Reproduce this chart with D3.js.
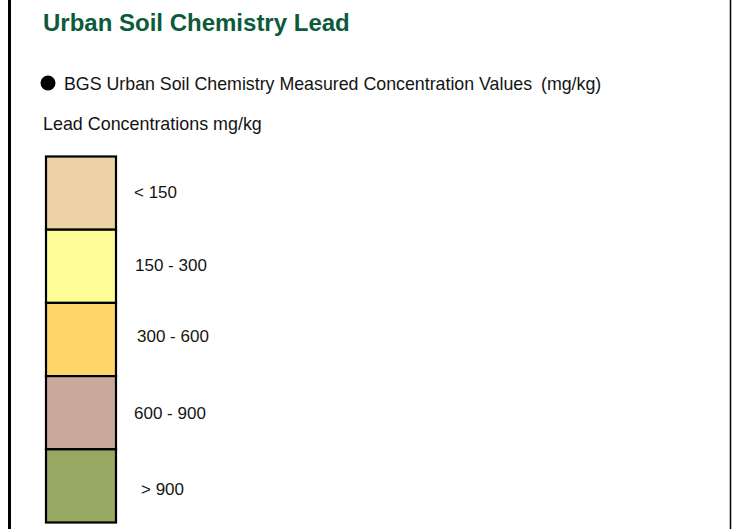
<!DOCTYPE html>
<html><head><meta charset="utf-8">
<script src="https://cdn.jsdelivr.net/npm/d3@7"></script>
<style>html,body{margin:0;padding:0;background:#fff;}svg{display:block;}</style>
</head><body>
<svg id="chart" width="732" height="529"></svg>
<script>
const title = "Urban Soil Chemistry Lead";
const pointLegend = "BGS Urban Soil Chemistry Measured Concentration Values";
const pointUnit = "(mg/kg)";
const subtitle = "Lead Concentrations mg/kg";
const categories = ["< 150", "150 - 300", "300 - 600", "600 - 900", "> 900"];
const colors = ["#ECD2A5", "#FEFE99", "#FED569", "#C9A99A", "#97A863"];
const labelOffsets = [134, 135, 137, 134, 141];
const labelNudges = [-1, -1.5, -3, 0, 3];

const svg = d3.select("#chart");
const W = 732, H = 529;
svg.append("rect").attr("width", W).attr("height", H).attr("fill", "#fff");

// frame lines
svg.append("line").attr("x1", 9.5).attr("x2", 9.5).attr("y1", 0).attr("y2", H)
  .attr("stroke", "#000").attr("stroke-width", 3);
svg.append("line").attr("x1", 730.5).attr("x2", 730.5).attr("y1", 0).attr("y2", H)
  .attr("stroke", "#000").attr("stroke-width", 1.5);

const font = "Arial, 'Liberation Sans', sans-serif";
svg.append("text").attr("x", 43).attr("y", 31).text(title)
  .attr("font-family", font).attr("font-weight", "bold").attr("font-size", 24)
  .attr("fill", "#0B5B3B");

svg.append("circle").attr("cx", 48).attr("cy", 83).attr("r", 7.5).attr("fill", "#000");
svg.append("text").attr("x", 64).attr("y", 89.5).text(pointLegend)
  .attr("font-family", font).attr("font-size", 17.8).attr("fill", "#141414");
svg.append("text").attr("x", 541).attr("y", 89.5).text(pointUnit)
  .attr("font-family", font).attr("font-size", 17.8).attr("fill", "#141414");
svg.append("text").attr("x", 43).attr("y", 130).text(subtitle)
  .attr("font-family", font).attr("font-size", 17.9).attr("fill", "#141414");

const y = d3.scaleBand().domain(categories).range([156.5, 522.5]).padding(0);
const color = d3.scaleOrdinal().domain(categories).range(colors);

const g = svg.append("g");
g.selectAll("rect.box").data(categories).join("rect").attr("class", "box")
  .attr("x", 46).attr("width", 70)
  .attr("y", d => y(d)).attr("height", y.bandwidth())
  .attr("fill", d => color(d)).attr("stroke", "#000").attr("stroke-width", 2.2);

g.selectAll("text.lab").data(categories).join("text").attr("class", "lab")
  .attr("x", (d, i) => labelOffsets[i])
  .attr("y", (d, i) => y(d) + y.bandwidth() / 2 + labelNudges[i])
  .attr("dy", "0.35em")
  .text(d => d)
  .attr("font-family", font).attr("font-size", 17).attr("fill", "#141414");
</script>
</body></html>
